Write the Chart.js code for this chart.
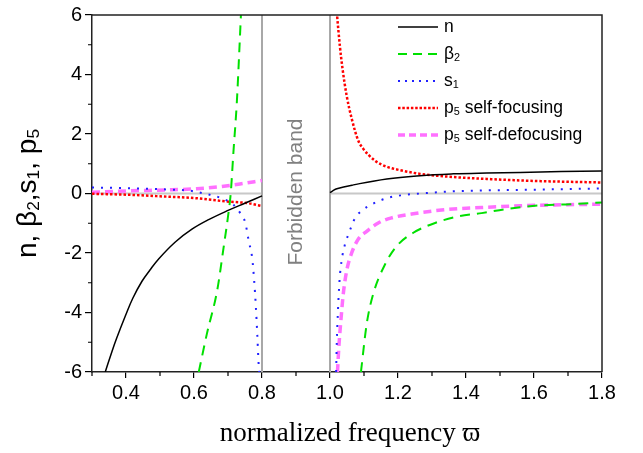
<!DOCTYPE html>
<html>
<head>
<meta charset="utf-8">
<script src="https://cdn.jsdelivr.net/npm/chart.js@4.4.0/dist/chart.umd.min.js"></script>
<style>
  html, body { margin: 0; padding: 0; background: #fff; }
  #wrap { width: 643px; height: 453px; }
</style>
</head>
<body>
<div id="wrap"><canvas id="chart" width="643" height="453"></canvas></div>
<script>
// values; null marks the forbidden band gap
const freqN = [0.339, 0.359, 0.373, 0.398, 0.42, 0.447, 0.47, 0.496, 0.545, 0.594, 0.643, 0.702, 0.751, 0.8, 0.9, 1.0, 1.007, 1.02, 1.069, 1.167, 1.265, 1.363, 1.461, 1.559, 1.68, 1.8];
const nValues = [-6, -5.3, -4.85, -4.12, -3.52, -2.95, -2.58, -2.2, -1.63, -1.2, -0.88, -0.56, -0.32, -0.08, null, 0.03, 0.08, 0.16, 0.29, 0.49, 0.6, 0.66, 0.69, 0.71, 0.74, 0.76];

const freqBeta = [0.614, 0.638, 0.668, 0.687, 0.702, 0.708, 0.716, 0.726, 0.733, 0.738, 0.9, 1.091, 1.108, 1.127, 1.162, 1.196, 1.245, 1.309, 1.377, 1.446, 1.52, 1.618, 1.706, 1.8];
const beta2Values = [-6, -4.71, -3.27, -1.82, -0.6, 0, 1.4, 3.07, 4.73, 6, null, -6, -4.38, -3.38, -2.38, -1.77, -1.32, -0.99, -0.77, -0.66, -0.52, -0.4, -0.36, -0.3];

const freqS = [0.3, 0.4, 0.51, 0.59, 0.637, 0.667, 0.716, 0.736, 0.751, 0.761, 0.771, 0.777, 0.782, 0.786, 0.79, 0.792, 0.9, 1.018, 1.02, 1.023, 1.028, 1.034, 1.044, 1.054, 1.074, 1.098, 1.123, 1.176, 1.226, 1.279, 1.358, 1.441, 1.608, 1.8];
const s1Values = [0.2, 0.18, 0.14, 0.09, -0.02, -0.1, -0.38, -0.66, -0.99, -1.6, -2.16, -2.93, -3.82, -4.71, -5.71, -6, null, -6, -5.0, -4.04, -2.93, -2.27, -1.71, -1.38, -0.82, -0.54, -0.36, -0.13, -0.04, 0.01, 0.07, 0.1, 0.13, 0.17];

const freqPf = [0.3, 0.402, 0.51, 0.608, 0.696, 0.755, 0.8, 0.9, 1.02, 1.021, 1.029, 1.037, 1.049, 1.064, 1.083, 1.098, 1.113, 1.135, 1.167, 1.216, 1.265, 1.343, 1.461, 1.608, 1.8];
const p5FocusValues = [-0.01, -0.04, -0.1, -0.16, -0.27, -0.32, -0.42, null, 6.1, 5.96, 4.96, 4.18, 3.29, 2.51, 1.78, 1.5, 1.3, 1.08, 0.9, 0.76, 0.66, 0.57, 0.49, 0.42, 0.37];

const freqPd = [0.3, 0.412, 0.52, 0.608, 0.676, 0.735, 0.8, 0.9, 1.022, 1.026, 1.032, 1.039, 1.049, 1.064, 1.083, 1.108, 1.142, 1.181, 1.24, 1.309, 1.377, 1.446, 1.559, 1.686, 1.8];
const p5DefocusValues = [0.04, 0.09, 0.12, 0.16, 0.23, 0.32, 0.44, null, -6, -5.16, -4.27, -3.38, -2.6, -1.99, -1.54, -1.27, -0.99, -0.82, -0.69, -0.58, -0.51, -0.47, -0.41, -0.38, -0.36];

const bandEdges = [0.8, 1.0];
const yTickValues = [-6, -4, -2, 0, 2, 4, 6];
const xTickValues = [0.4, 0.6, 0.8, 1.0, 1.2, 1.4, 1.6, 1.8];

const sansFont = "'Liberation Sans', Arial, sans-serif";
const serifFont = "'Liberation Serif', 'Times New Roman', 'DejaVu Serif', serif";

const toPoints = (xs, ys) => xs.map((x, i) => ({ x: x, y: ys[i] }));

// legend entries: [main text, subscript, rest, color, dash, width]
const legendItems = [
    ['n', '', '', '#000000', [], 1.5],
    ['\u03b2', '2', '', '#00e000', [9, 6], 2],
    ['s', '1', '', '#2020ff', [2, 5], 2],
    ['p', '5', ' self-focusing', '#ff0000', [2.5, 1.8], 2.5],
    ['p', '5', ' self-defocusing', '#ff70ff', [7, 4], 3.5]
];

// draw text with subscripts, parts = [[text, isSub], ...]
const drawRich = (ctx, parts, x, y, size, family) => {
    let cx = x;
    parts.forEach(([text, sub]) => {
        const fs = sub ? size * 0.62 : size;
        ctx.font = fs + 'px ' + family;
        ctx.fillText(text, cx, sub ? y + size * 0.22 : y);
        cx += ctx.measureText(text).width;
    });
    return cx - x;
};
const richWidth = (ctx, parts, size, family) => {
    let w = 0;
    parts.forEach(([text, sub]) => {
        ctx.font = (sub ? size * 0.62 : size) + 'px ' + family;
        w += ctx.measureText(text).width;
    });
    return w;
};

const decorPlugin = {
    id: 'decor',
    beforeDatasetsDraw(chart) {
        const { ctx, chartArea: a, scales: { x, y } } = chart;
        ctx.save();
        // zero line outside the band
        const y0 = y.getPixelForValue(0);
        const xL = x.getPixelForValue(bandEdges[0]);
        const xR = x.getPixelForValue(bandEdges[1]);
        ctx.strokeStyle = '#c8c8c8';
        ctx.lineWidth = 2;
        ctx.beginPath();
        ctx.moveTo(a.left, y0); ctx.lineTo(xL, y0);
        ctx.moveTo(xR, y0); ctx.lineTo(a.right, y0);
        ctx.stroke();
        // band edges
        ctx.strokeStyle = '#a8a8a8';
        ctx.beginPath();
        ctx.moveTo(xL, a.top); ctx.lineTo(xL, a.bottom);
        ctx.moveTo(xR, a.top); ctx.lineTo(xR, a.bottom);
        ctx.stroke();
        // band label
        ctx.translate((xL + xR) / 2, y.getPixelForValue(0.05));
        ctx.rotate(-Math.PI / 2);
        ctx.fillStyle = '#808080';
        ctx.font = '21px ' + sansFont;
        ctx.textAlign = 'center';
        ctx.textBaseline = 'middle';
        ctx.fillText('Forbidden band', 0, 0);
        ctx.restore();
    },
    afterDraw(chart) {
        const { ctx, chartArea: a, scales: { x, y } } = chart;
        ctx.save();
        // frame top/right
        ctx.strokeStyle = '#222';
        ctx.lineWidth = 1.5;
        ctx.beginPath();
        ctx.moveTo(a.left, a.top); ctx.lineTo(a.right, a.top); ctx.lineTo(a.right, a.bottom);
        ctx.stroke();
        // minor ticks
        ctx.strokeStyle = '#000';
        ctx.lineWidth = 1.2;
        ctx.beginPath();
        for (let v = 0.3; v < 1.85; v += 0.2) {
            const px = x.getPixelForValue(v);
            ctx.moveTo(px, a.bottom); ctx.lineTo(px, a.bottom + 4);
        }
        for (let v = -5; v <= 5; v += 2) {
            const py = y.getPixelForValue(v);
            ctx.moveTo(a.left, py); ctx.lineTo(a.left - 4, py);
        }
        ctx.stroke();

        // legend
        ctx.fillStyle = '#000';
        ctx.textBaseline = 'middle';
        legendItems.forEach((item, i) => {
            const rowY = 27 + i * 27;
            ctx.strokeStyle = item[3];
            ctx.lineWidth = item[5];
            ctx.setLineDash(item[4]);
            ctx.beginPath();
            ctx.moveTo(398, rowY); ctx.lineTo(438, rowY);
            ctx.stroke();
            ctx.setLineDash([]);
            drawRich(ctx, [[item[0], false], [item[1], true], [item[2], false]], 444, rowY, 17.5, sansFont);
        });

        // y title
        const yParts = [['n, \u03b2', false], ['2', true], [',s', false], ['1', true], [', p', false], ['5', true]];
        const yw = richWidth(ctx, yParts, 28, sansFont);
        ctx.save();
        ctx.translate(28, (a.top + a.bottom) / 2);
        ctx.rotate(-Math.PI / 2);
        ctx.textBaseline = 'middle';
        drawRich(ctx, yParts, -yw / 2, 0, 28, sansFont);
        ctx.restore();

        // x title
        ctx.font = '27px ' + serifFont;
        ctx.textAlign = 'center';
        ctx.textBaseline = 'alphabetic';
        ctx.fillText('normalized frequency \u03d6', (a.left + a.right) / 2 + 3, 441);
        ctx.restore();
    }
};

const baseSet = { pointRadius: 0, spanGaps: false, fill: false, cubicInterpolationMode: 'monotone', borderCapStyle: 'butt' };

new Chart(document.getElementById('chart'), {
    type: 'line',
    data: {
        datasets: [
            { ...baseSet, label: 'n', data: toPoints(freqN, nValues), borderColor: '#000000', borderWidth: 1.5, cubicInterpolationMode: 'default', tension: 0.4 },
            { ...baseSet, label: 'beta2', data: toPoints(freqBeta, beta2Values), borderColor: '#00e000', borderWidth: 2, borderDash: [10, 7] },
            { ...baseSet, label: 's1', data: toPoints(freqS, s1Values), borderColor: '#2020ff', borderWidth: 2, borderDash: [2, 7] },
            { ...baseSet, label: 'p5 self-focusing', data: toPoints(freqPf, p5FocusValues), borderColor: '#ff0000', borderWidth: 2.5, borderDash: [2.5, 2] },
            { ...baseSet, label: 'p5 self-defocusing', data: toPoints(freqPd, p5DefocusValues), borderColor: '#ff70ff', borderWidth: 3.5, borderDash: [8, 5] }
        ]
    },
    options: {
        responsive: false,
        animation: false,
        layout: { padding: { top: 12, right: 41, left: 0, bottom: 0 } },
        plugins: { legend: { display: false }, tooltip: { enabled: false } },
        scales: {
            x: {
                type: 'linear',
                min: 0.3,
                max: 1.8,
                afterFit: (s) => { s.height = 81; },
                afterBuildTicks: (s) => { s.ticks = xTickValues.map(v => ({ value: v })); },
                ticks: {
                    color: '#000',
                    font: { size: 20, family: sansFont },
                    padding: 3,
                    maxRotation: 0,
                    autoSkip: false,
                    callback: (v) => Number(v).toFixed(1)
                },
                grid: { drawOnChartArea: false, drawTicks: true, tickLength: 6, color: '#000', lineWidth: 1.2 },
                border: { display: true, color: '#222', width: 1.5 }
            },
            y: {
                min: -6,
                max: 6,
                afterFit: (s) => { s.width = 92; },
                afterBuildTicks: (s) => { s.ticks = yTickValues.map(v => ({ value: v })); },
                ticks: {
                    color: '#000',
                    font: { size: 20, family: sansFont },
                    padding: 3,
                    autoSkip: false
                },
                grid: { drawOnChartArea: false, drawTicks: true, tickLength: 7, color: '#000', lineWidth: 1.2 },
                border: { display: true, color: '#222', width: 1.5 }
            }
        }
    },
    plugins: [decorPlugin]
});
</script>
</body>
</html>
